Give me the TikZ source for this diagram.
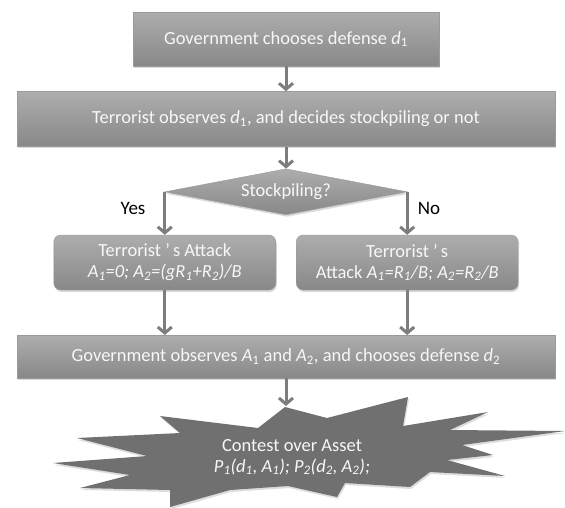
\documentclass[tikz,border=0pt]{standalone}
\usepackage{fontspec}
\setmainfont{Carlito}
\usepackage{tikz}
\usetikzlibrary{arrows.meta,shapes.geometric,shadows,positioning}
\definecolor{boxtop}{HTML}{ADADAD}
\definecolor{boxbot}{HTML}{888888}
\definecolor{boxline}{HTML}{9A9A9A}
\definecolor{arrgray}{HTML}{7D7D7D}
\definecolor{burstgray}{HTML}{707070}
\newcommand{\iv}[2]{\textit{#1}\textsubscript{#2}}

\begin{document}
\begin{tikzpicture}
    [x=1pt, y=-1pt,
    txt/.style={
      inner sep=0pt,
      text=white!94!gray, align=center,
      font=\fontsize{18.5}{21}\selectfont
      },
    box/.style={
      txt, rectangle,
      draw=boxline, top color=boxtop, bottom color=boxbot,
      drop shadow={opacity=.3, shadow xshift=1pt, shadow yshift=-2pt}
      },
    rbox/.style={box, rounded corners=7pt, minimum width=222pt, minimum height=55pt},
    dec/.style={box, diamond, aspect=5, minimum width=242pt, minimum height=46pt},
    arr/.style={draw=arrgray, line width=3pt, -{Straight Barb[length=6pt,width=14pt]}},
    lbl/.style={font=\fontsize{19}{21}\selectfont, text=black}]

    \useasboundingbox (0,0) rectangle (565,507);

    \node (gov1) [box, minimum width=306pt, minimum height=54pt] at (286,39) {Government chooses defense \iv{d}{1}};
    \node (obs) [box, minimum width=538pt, minimum height=55pt, below=25pt of gov1] {Terrorist observes \iv{d}{1}, and decides stockpiling or not};
    \node (stock) [dec, below=22pt of obs] {Stockpiling?};
    \node (attY) [rbox, below=43pt of stock.west] {Terrorist ’\,s Attack\\ \textit{A\textsubscript{1}=0; A\textsubscript{2}=(gR\textsubscript{1}+R\textsubscript{2})/B}};
    \node (attN) [rbox, below=43pt of stock.east] {Terrorist ’\,s\\ Attack \textit{A\textsubscript{1}=R\textsubscript{1}/B; A\textsubscript{2}=R\textsubscript{2}/B}};
    \node (decide) [box, minimum width=538pt, minimum height=43pt, anchor=north] at (286,335) {Government observes \iv{A}{1} and \iv{A}{2}, and chooses defense \iv{d}{2}};

    \node (yes) [lbl] at (133,208) {Yes};
    \node (no) [lbl] at (429,208) {No};

    % contest burst
    \fill[burstgray!60, opacity=.4, xshift=1pt, yshift=-2pt] (285,407) -- (327,418) -- (408,397) -- (403,426) -- (488,412) -- (450,430) -- (565,431) -- (462,445) -- (493,455) -- (447,460) -- (505,476) -- (430,472) -- (410,487) -- (345,483) -- (337,497) -- (288,486) -- (230,490) -- (170,507) -- (170,490) -- (80,488) -- (130,475) -- (53,463) -- (147,456) -- (77,438) -- (180,433) -- (160,416) -- (258,428) -- cycle;
    \fill[burstgray] (285,407) -- (327,418) -- (408,397) -- (403,426) -- (488,412) -- (450,430) -- (565,431) -- (462,445) -- (493,455) -- (447,460) -- (505,476) -- (430,472) -- (410,487) -- (345,483) -- (337,497) -- (288,486) -- (230,490) -- (170,507) -- (170,490) -- (80,488) -- (130,475) -- (53,463) -- (147,456) -- (77,438) -- (180,433) -- (160,416) -- (258,428) -- cycle;
    \coordinate (burstTop) at (286,406);
    \node (contest) [txt] at (292,457) {Contest over Asset\\ \textit{P\textsubscript{1}(d\textsubscript{1}, A\textsubscript{1}); P\textsubscript{2}(d\textsubscript{2}, A\textsubscript{2});}};

    \draw[arr] (gov1) -- (obs);
    \draw[arr] (obs) -- (stock);
    \draw[arr] (stock.west) -- (attY);
    \draw[arr] (stock.east) -- (attN);
    \draw[arr] (attY) -- (attY |- decide.north);
    \draw[arr] (attN) -- (attN |- decide.north);
    \draw[arr] (decide) -- (burstTop);

  \end{tikzpicture}
\end{document}
